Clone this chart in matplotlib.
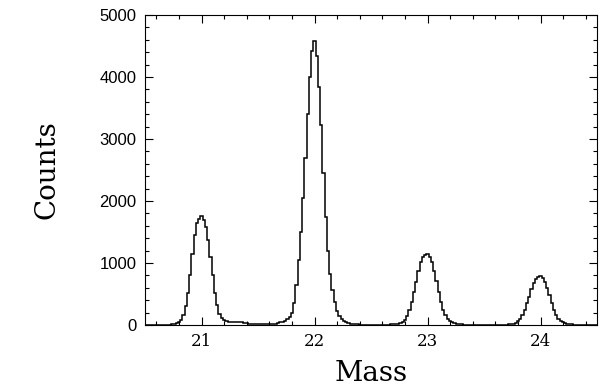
#!/bin/env python3

import numpy as np
import matplotlib
matplotlib.use('Agg')
import matplotlib.pyplot as plt
from matplotlib.ticker import MultipleLocator

# histogram: bins of 0.02 mass units, first bin centred on 20.50
bin_width = 0.02
first_center = 20.50

counts = [
    # 20.50 - 20.68
    0, 1, 1, 1, 1, 1, 2, 2, 3, 4,
    # 20.70 - 20.88
    6, 9, 14, 22, 34, 52, 90, 160, 300, 520,
    # 20.90 - 21.08
    800, 1150, 1450, 1640, 1710, 1760, 1700, 1590, 1380, 1100,
    # 21.10 - 21.28
    800, 520, 320, 185, 110, 75, 60, 56, 55, 56,
    # 21.30 - 21.48
    57, 55, 52, 46, 38, 30, 24, 18, 14, 11,
    # 21.50 - 21.68
    10, 10, 11, 12, 13, 14, 16, 20, 25, 32,
    # 21.70 - 21.88
    42, 55, 72, 95, 130, 190, 360, 650, 1050, 1500,
    # 21.90 - 22.08
    2050, 2700, 3400, 4000, 4420, 4580, 4340, 3840, 3230, 2450,
    # 22.10 - 22.28
    1750, 1200, 820, 560, 370, 230, 145, 95, 65, 45,
    # 22.30 - 22.48
    32, 24, 18, 13, 10, 8, 6, 5, 5, 4,
    # 22.50 - 22.68
    4, 4, 4, 4, 5, 5, 6, 7, 8, 10,
    # 22.70 - 22.88
    12, 16, 22, 32, 50, 85, 140, 240, 370, 530,
    # 22.90 - 23.08
    700, 870, 1010, 1100, 1125, 1145, 1100, 1020, 880, 710,
    # 23.10 - 23.28
    530, 370, 245, 160, 100, 68, 46, 32, 23, 17,
    # 23.30 - 23.48
    12, 9, 7, 5, 4, 3, 3, 3, 3, 3,
    # 23.50 - 23.68
    3, 3, 3, 3, 3, 3, 3, 4, 4, 5,
    # 23.70 - 23.88
    7, 10, 15, 23, 36, 60, 100, 160, 245, 350,
    # 23.90 - 24.08
    460, 575, 675, 745, 770, 785, 755, 700, 600, 480,
    # 24.10 - 24.28
    360, 250, 165, 105, 70, 47, 33, 24, 17, 12,
    # 24.30 - 24.48
    9, 7, 5, 4, 3, 3, 2, 2, 1, 1,
    # 24.50
    1,
]

x_ticks = [21, 22, 23, 24]
y_ticks = [0, 1000, 2000, 3000, 4000, 5000]

serif = 'DejaVu Serif'
sans = 'Liberation Sans'

fig = plt.figure(figsize=(6, 3.87), dpi=100)
ax = fig.add_axes([0.2417, 0.160, 0.7533, 0.801])

edges = first_center - bin_width / 2 + bin_width * np.arange(len(counts) + 1)
ax.stairs(counts, edges, color='black', linewidth=1.1)

ax.set_xlim(20.5, 24.5)
ax.set_ylim(0, 5000)

ax.set_xticks(x_ticks)
ax.set_yticks(y_ticks)
ax.xaxis.set_minor_locator(MultipleLocator(0.2))
ax.yaxis.set_minor_locator(MultipleLocator(200))

ax.tick_params(which='both', direction='in', top=True, right=True, width=0.8, color='black')
ax.tick_params(which='major', length=5.8)
ax.tick_params(which='minor', length=2.8)
ax.tick_params(axis='x', which='major', pad=6)
ax.tick_params(axis='y', which='major', pad=6)

for lab in ax.get_xticklabels():
    lab.set_fontfamily(serif)
    lab.set_fontsize(12)
for lab in ax.get_yticklabels():
    lab.set_fontfamily(sans)
    lab.set_fontsize(12)

for sp in ax.spines.values():
    sp.set_linewidth(0.8)

ax.set_xlabel("Mass", fontfamily=serif, fontsize=20, labelpad=7)
ax.set_ylabel("Counts", fontfamily=serif, fontsize=20, labelpad=28)

plt.savefig('out.png', dpi=100)
